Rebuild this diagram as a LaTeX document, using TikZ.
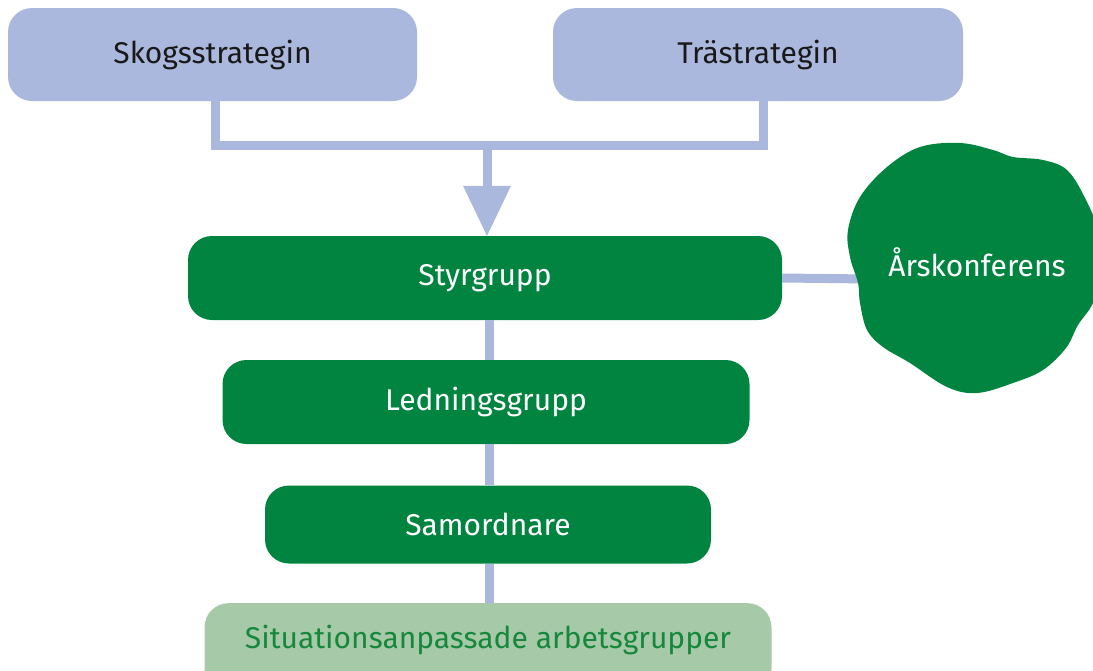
\documentclass[tikz,border=0pt]{standalone}
\usepackage{fontspec}
\setmainfont{Fira Sans}
\definecolor{lb}{HTML}{ABB8DE}
\definecolor{gr}{HTML}{00843F}
\definecolor{lg}{HTML}{A6CAA7}
\definecolor{tg}{HTML}{16873C}
\tikzset{
  box/.style={rounded corners=24pt, inner sep=0pt, font=\fontsize{30}{34}\selectfont},
  bluebox/.style={box, fill=lb, text=black!90},
  greenbox/.style={box, fill=gr, text=white},
  palebox/.style={box, fill=lg, text=tg},
  conn/.style={draw=lb, line width=9pt},
}
\begin{document}
\begin{tikzpicture}[x=1pt,y=-1pt]
\useasboundingbox (0,0) rectangle (1093,670);
\clip (0,0) rectangle (1093,670);
% nodes
\node[bluebox, minimum width=409pt, minimum height=93pt] (skog) at (212.5,54.5) {Skogsstrategin};
\node[bluebox, minimum width=410pt, minimum height=93pt] (tra) at (758,54.5) {Trästrategin};
\node[greenbox, minimum width=594pt, minimum height=84pt] (styr) at (485,278) {Styrgrupp};
\node[greenbox, minimum width=527pt, minimum height=84pt] (led) at (486,402) {Ledningsgrupp};
\node[greenbox, minimum width=446pt, minimum height=78pt] (sam) at (488,524.5) {Samordnare};
\node[palebox, minimum width=567pt, minimum height=90pt, anchor=north] (sit) at (488,603) {};
\node[text=tg, font=\fontsize{30}{34}\selectfont, inner sep=0pt] (sittext) at (488,640) {Situationsanpassade arbetsgrupper};
% top connectors
\coordinate (j) at (487,145);
\draw[conn] ([xshift=2.5pt]skog.south) |- (j);
\draw[conn] ([xshift=5pt]tra.south) |- (j);
\draw[conn] (j) -- ([xshift=2pt,yshift=48pt]styr.north);
\fill[lb] ([xshift=2pt]styr.north) -- ++(-24,-50) -- ++(48,0) -- cycle;
% vertical connectors
\draw[conn] ([xshift=4pt]styr.south) -- ([xshift=3pt]led.north);
\draw[conn] ([xshift=3pt]led.south) -- ([xshift=1pt]sam.north);
\draw[conn] ([xshift=1pt]sam.south) -- ([xshift=1pt]sit.north);
% blob
\coordinate (bl) at (870,279);
\draw[conn] (styr.east) -- (bl);
\fill[gr] plot[smooth cycle, tension=0.6] coordinates {
  (848,230) (860,197) (887,167) (920,147) (960,143) (993,150) (1013,157)
  (1043,160) (1067,170) (1085,198) (1100,235) (1104,275) (1092,305)
  (1078,325) (1066,348) (1043,370) (1013,383) (977,393) (947,387)
  (910,363) (883,347) (867,330) (860,303) (858,283) (850,257)};
\node[text=white, font=\fontsize{30}{34}\selectfont, inner sep=0pt] (ars) at (977,262) {Årskonferens};
\end{tikzpicture}
\end{document}
